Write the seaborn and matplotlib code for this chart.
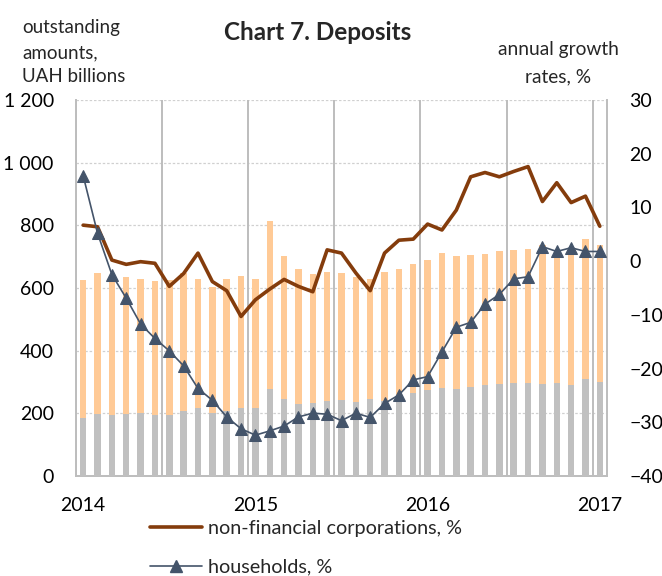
import numpy as np
import pandas as pd
import matplotlib
matplotlib.use("Agg")
import matplotlib.pyplot as plt
import seaborn as sns
from matplotlib.lines import Line2D

# ---- data (monthly, Jan 2014 .. Jan 2017) ----
months = pd.date_range("2014-01-01", "2017-01-01", freq="MS").strftime("%Y-%m").tolist()

# lower (grey) segment of stacked bars, UAH bn
lower_seg = [186, 199, 196, 197, 200, 194, 196, 206, 218, 202, 207, 218, 218, 278, 246, 231,
             232, 240, 244, 237, 246, 240, 250, 266, 274, 282, 278, 285, 289, 295, 298, 298,
             295, 298, 291, 311, 300]
# upper (orange) segment of stacked bars, UAH bn
upper_seg = [439, 449, 440, 439, 429, 428, 429, 441, 411, 402, 422, 419, 411, 536, 457, 429,
             413, 412, 404, 398, 384, 410, 411, 411, 414, 429, 425, 420, 419, 422, 423, 426,
             442, 422, 435, 444, 438]

# annual growth rates, %
nfc_growth = [6.7, 6.4, 0.2, -0.6, -0.1, -0.4, -4.7, -2.3, 1.5, -3.8, -5.5, -10.3, -7.2, -5.2,
              -3.4, -4.7, -5.7, 2.1, 1.5, -2.2, -5.5, 1.5, 3.9, 4.1, 6.9, 5.8, 9.5, 15.7, 16.5,
              15.7, 16.7, 17.6, 11.1, 14.6, 10.9, 12.1, 6.5]
hh_growth = [15.9, 5.2, -2.5, -6.9, -11.7, -14.4, -16.7, -19.5, -23.7, -25.9, -29.0, -31.2,
             -32.4, -31.6, -30.7, -29.0, -28.3, -28.5, -29.7, -28.3, -29.1, -26.5, -24.9,
             -22.1, -21.5, -16.9, -12.3, -11.4, -8.0, -6.2, -3.3, -2.9, 2.7, 1.8, 2.5, 1.8, 1.8]

year_labels = ["2014", "2015", "2016", "2017"]
left_ticks = [0, 200, 400, 600, 800, 1000, 1200]
left_tick_labels = ["0", "200", "400", "600", "800", "1 000", "1 200"]
right_ticks = [-40, -30, -20, -10, 0, 10, 20, 30]

total = [a + b for a, b in zip(lower_seg, upper_seg)]
df = pd.DataFrame({"month": months, "lower": lower_seg, "total": total,
                   "nfc": nfc_growth, "hh": hh_growth})
df["pos"] = np.arange(len(df))

sns.set_style("white")
plt.rcParams["font.family"] = ["Lato", "DejaVu Sans"]

ORANGE = "#FFCA96"
GREY = "#C0C0C0"
BROWN = "#843C0C"
SLATE = "#44546A"

W, H = 662, 576
fig = plt.figure(figsize=(W / 100, H / 100), dpi=100)
ax = fig.add_axes([76 / W, 1 - 476 / H, (607 - 76) / W, (476 - 100) / H])

sns.barplot(data=df, x="month", y="total", color=ORANGE, width=0.45, ax=ax,
            saturation=1, edgecolor="none", linewidth=0, zorder=2)
sns.barplot(data=df, x="month", y="lower", color=GREY, width=0.45, ax=ax,
            saturation=1, edgecolor="none", linewidth=0, zorder=3)

n = len(df)
ax.set_xlim(-0.5, n - 0.5)
ax.set_ylim(0, 1200)
ax.set_yticks(left_ticks)
ax.set_yticklabels(left_tick_labels)
ax.set_xticks([12 * k for k in range(len(year_labels))])
ax.set_xticklabels(year_labels)
ax.set_xlabel("")
ax.set_ylabel("")
ax.tick_params(axis="both", length=0, labelsize=14, colors="black")
ax.tick_params(axis="x", pad=15)
ax.tick_params(axis="y", pad=16)

# grid
for y in left_ticks[1:]:
    ax.axhline(y, color="#D0D0D0", lw=0.9, ls=(0, (2, 1.5)), zorder=0)
for xv in np.arange(-0.5, n, 6):
    ax.axvline(xv, color="#BDBDBD", lw=1.4, zorder=1)
ax.spines["top"].set_visible(False)
for s in ["left", "bottom", "right"]:
    ax.spines[s].set_color("#BDBDBD")
    ax.spines[s].set_linewidth(1.4)

ax2 = ax.twinx()
sns.lineplot(data=df, x="pos", y="nfc", ax=ax2, color=BROWN, lw=2.6,
             solid_joinstyle="round", solid_capstyle="round", zorder=5)
sns.lineplot(data=df, x="pos", y="hh", ax=ax2, color=SLATE, lw=1.2, marker="^",
             markersize=9, markeredgecolor=SLATE, markerfacecolor=SLATE, zorder=6)
ax2.set_xlim(-0.5, n - 0.5)
ax2.set_ylim(-40, 30)
ax2.set_yticks(right_ticks)
ax2.set_ylabel("")
ax2.set_xlabel("")
ax2.tick_params(axis="y", length=0, labelsize=14, colors="black", pad=16)
for s in ax2.spines.values():
    s.set_visible(False)

# texts
for txt, yc in [("outstanding", 27), ("amounts,", 53), ("UAH billions", 77)]:
    fig.text(22 / W, 1 - yc / H, txt, ha="left", va="center", fontsize=13.5)
fig.text(318 / W, 1 - 33 / H, "Chart 7. Deposits", ha="center", va="center",
         fontsize=17.5, fontweight="bold")
for txt, yc in [("annual growth", 49), ("rates, %", 77)]:
    fig.text(558 / W, 1 - yc / H, txt, ha="center", va="center", fontsize=13.8)

handles = [Line2D([], [], color=BROWN, lw=2.6),
           Line2D([], [], color=SLATE, lw=1.2, marker="^", markersize=9)]
fig.legend(handles, ["non-financial corporations, %", "households, %"],
           loc="upper left", bbox_to_anchor=(142 / W, 1 - 512 / H), frameon=False,
           fontsize=14.3, handlelength=2.6, handletextpad=0.3, labelspacing=1.1,
           borderaxespad=0)

fig.savefig("out.png", dpi=100)
